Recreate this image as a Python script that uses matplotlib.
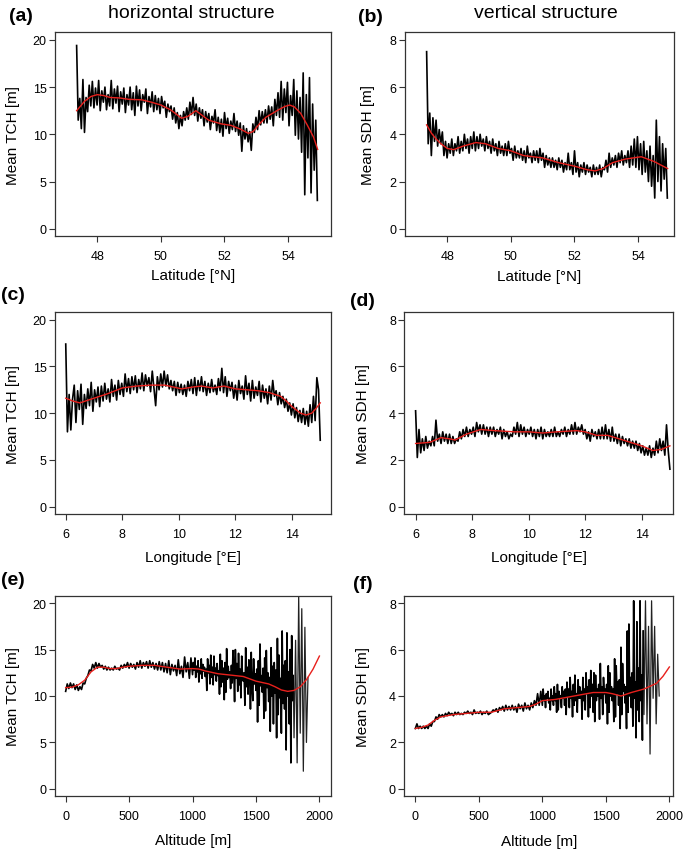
import matplotlib
matplotlib.use("Agg")
import matplotlib.pyplot as plt
import numpy as np

plt.rcParams['font.family'] = ['Liberation Sans', 'DejaVu Sans']

# ---------------- data ----------------
# (a) Mean TCH vs latitude
lat_range = [47.35, 54.92]
tch_lat = [
    19.4, 11.5, 13.8, 10.6, 15.8, 10.2, 13.9, 12.4, 15.2, 13.0,
    15.6, 12.8, 14.9, 13.1, 15.7, 12.5, 14.6, 13.4, 15.0, 12.6,
    14.2, 13.0, 15.7, 12.7, 14.8, 13.3, 15.1, 12.4, 14.5, 13.2,
    14.9, 12.3, 14.2, 13.1, 15.0, 12.6, 14.4, 12.0, 15.1, 13.0,
    14.7, 12.5, 14.2, 13.4, 14.8, 12.2, 14.0, 12.9, 14.5, 12.4,
    14.1, 12.6, 13.8, 12.2, 14.0, 12.8, 13.5, 11.8, 13.2, 12.4,
    13.0, 11.6, 12.8, 11.2, 12.3, 10.6, 12.0, 10.9, 12.4, 11.5,
    12.8, 11.6, 13.4, 12.1, 13.9, 12.0, 13.2, 11.4, 12.8, 11.7,
    12.6, 10.9, 12.4, 11.3, 12.2, 10.5, 11.9, 11.2, 12.6, 10.4,
    11.8, 10.2, 11.6, 9.8, 12.3, 10.6, 11.7, 10.1, 11.4, 10.5,
    12.2, 10.3, 11.4, 9.9, 11.2, 8.2, 10.9, 9.5, 10.6, 9.2,
    10.3, 8.3, 11.1, 10.2, 11.8, 10.5, 12.5, 11.0, 12.4, 11.2,
    12.6, 11.2, 13.0, 11.6, 12.9, 10.9, 13.7, 12.0, 14.4, 11.8,
    15.6, 11.5, 14.8, 12.3, 15.5, 10.9, 14.1, 12.0, 15.8, 9.9,
    14.6, 9.5, 13.9, 8.1, 16.5, 3.6, 14.2, 7.5, 16.0, 3.8,
    13.2, 6.2, 11.5, 3.0]
tch_lat_fit_x = [47.35, 47.6, 47.8, 48.0, 48.2, 48.4, 48.7, 49.0, 49.4, 49.7, 50.0, 50.3,
                 50.5, 50.65, 50.85, 51.1, 51.3, 51.5, 51.9, 52.2, 52.5, 52.75, 52.9,
                 53.1, 53.3, 53.5, 53.7, 53.9, 54.05, 54.2, 54.4, 54.6, 54.8, 54.93]
tch_lat_fit_y = [12.5, 13.5, 14.0, 14.2, 14.1, 13.9, 13.85, 13.7, 13.65, 13.4, 13.1, 12.6,
                 12.1, 11.7, 11.9, 12.5, 12.0, 11.5, 11.1, 10.95, 10.55, 10.1, 10.3,
                 11.1, 11.8, 12.2, 12.6, 12.95, 13.1, 12.9, 12.2, 11.0, 9.7, 8.4]

# (b) Mean SDH vs latitude
sdh_lat = [
    7.5, 3.6, 4.9, 3.1, 4.7, 3.7, 4.6, 3.5, 4.2, 3.6,
    4.1, 3.1, 3.7, 3.0, 3.6, 3.2, 3.8, 3.1, 3.6, 3.3,
    3.9, 3.2, 3.7, 3.3, 4.0, 3.4, 3.8, 3.2, 3.9, 3.4,
    4.1, 3.3, 3.9, 3.4, 4.0, 3.5, 3.8, 3.3, 3.9, 3.4,
    3.7, 3.2, 3.8, 3.3, 3.6, 3.1, 3.7, 3.2, 3.5, 3.1,
    3.6, 3.1, 3.7, 3.2, 3.4, 2.9, 3.5, 3.0, 3.3, 3.0,
    3.4, 2.9, 3.3, 2.8, 3.5, 3.0, 3.2, 2.8, 3.3, 2.9,
    3.3, 2.8, 3.4, 2.9, 3.2, 2.6, 3.1, 2.7, 3.0, 2.6,
    3.0, 2.6, 2.9, 2.5, 3.0, 2.6, 2.9, 2.4, 2.8, 2.5,
    3.2, 2.5, 2.8, 2.3, 3.3, 2.4, 2.8, 2.2, 2.7, 2.4,
    2.8, 2.3, 2.7, 2.4, 2.6, 2.2, 2.7, 2.3, 2.6, 2.3,
    2.7, 2.2, 2.6, 2.5, 2.9, 2.4, 3.2, 2.6, 3.0, 2.7,
    3.1, 2.6, 3.2, 2.8, 3.3, 2.7, 3.1, 2.8, 3.3, 2.6,
    3.5, 2.7, 3.8, 2.6, 3.9, 2.5, 3.6, 2.3, 3.7, 2.4,
    3.3, 2.0, 3.5, 1.8, 3.1, 1.3, 4.6, 2.0, 3.9, 1.6,
    3.6, 2.1, 3.4, 1.3]
sdh_lat_fit_x = [47.35, 47.5, 47.65, 47.8, 48.0, 48.2, 48.5, 48.9, 49.2, 49.6, 50.0, 50.4,
                 50.7, 51.0, 51.5, 52.0, 52.4, 52.65, 52.9, 53.2, 53.6, 54.1, 54.5, 54.93]
sdh_lat_fit_y = [4.4, 4.05, 3.8, 3.6, 3.4, 3.35, 3.5, 3.65, 3.6, 3.4, 3.3, 3.1,
                 3.05, 3.0, 2.8, 2.65, 2.5, 2.45, 2.55, 2.8, 2.95, 3.05, 2.85, 2.55]

# (c) Mean TCH vs longitude
lon_range = [6.0, 15.0]
tch_lon = [
    17.4, 8.0, 12.0, 8.2, 11.5, 13.0, 9.0, 12.4, 10.4, 13.1,
    8.8, 12.0, 10.5, 12.6, 10.8, 13.3, 10.2, 12.5, 11.2, 12.8,
    10.7, 12.9, 11.3, 13.2, 11.5, 12.6, 11.2, 13.6, 11.8, 13.0,
    11.4, 13.5, 12.0, 13.2, 11.8, 14.2, 12.3, 13.7, 12.1, 13.9,
    12.5, 14.0, 12.2, 13.6, 12.6, 14.3, 12.4, 14.1, 12.9, 13.8,
    12.3, 14.5, 12.7, 10.8, 13.9, 12.5, 14.2, 12.8, 14.5, 12.9,
    14.1, 12.6, 13.5, 12.4, 13.4, 11.9, 13.3, 12.2, 13.1, 12.0,
    13.0, 11.8, 13.4, 12.4, 13.6, 12.1, 13.8, 11.9, 13.5, 12.4,
    13.9, 12.3, 13.4, 11.9, 13.2, 12.2, 13.6, 12.3, 13.0, 12.0,
    13.7, 12.4, 14.8, 12.2, 13.9, 11.8, 13.4, 12.4, 13.3, 11.6,
    13.0, 11.4, 13.5, 12.1, 12.9, 11.5, 14.0, 12.0, 13.2, 11.3,
    13.5, 11.6, 12.8, 11.9, 13.4, 11.2, 13.0, 11.6, 12.6, 11.0,
    12.9, 11.4, 13.5, 11.8, 12.4, 10.9, 12.2, 11.0, 11.8, 10.6,
    11.5, 10.2, 11.1, 9.8, 11.0, 9.5, 10.6, 9.1, 10.3, 9.0,
    10.5, 8.8, 10.2, 8.6, 10.9, 9.0, 11.8, 9.2, 13.8, 12.5,
    7.1]
tch_lon_fit_x = [6.0, 6.25, 6.5, 7.0, 7.5, 8.0, 8.5, 9.0, 9.5, 9.8, 10.1, 10.5, 10.8,
                 11.2, 11.6, 12.0, 12.4, 12.8, 13.2, 13.6, 13.8, 14.0, 14.3, 14.5,
                 14.7, 14.85, 15.0]
tch_lon_fit_y = [11.6, 11.3, 11.1, 11.6, 12.1, 12.7, 12.9, 13.0, 13.0, 12.8, 12.6, 12.8,
                 12.9, 12.7, 12.9, 12.6, 12.5, 12.4, 12.2, 11.8, 11.3, 10.7, 10.0,
                 9.8, 10.0, 10.5, 11.1]

# (d) Mean SDH vs longitude
sdh_lon = [
    4.1, 2.1, 3.3, 2.3, 2.9, 2.4, 3.0, 2.5, 2.8, 2.6,
    3.0, 2.6, 3.7, 2.8, 3.1, 2.7, 3.2, 2.8, 3.1, 2.7,
    3.1, 2.7, 3.0, 2.7, 2.9, 2.8, 3.2, 2.9, 3.3, 3.0,
    3.4, 3.0, 3.3, 3.1, 3.4, 3.0, 3.6, 3.2, 3.5, 3.1,
    3.5, 3.1, 3.4, 3.0, 3.4, 3.1, 3.4, 3.0, 3.3, 3.1,
    3.4, 2.9, 3.3, 3.0, 3.2, 2.9, 3.1, 3.0, 3.4, 3.1,
    3.6, 3.0, 3.5, 3.1, 3.4, 3.0, 3.3, 3.1, 3.4, 3.0,
    3.3, 2.9, 3.3, 3.0, 3.4, 2.9, 3.3, 3.0, 3.2, 3.0,
    3.3, 3.0, 3.4, 3.0, 3.2, 3.0, 3.3, 3.1, 3.4, 3.0,
    3.3, 3.1, 3.5, 3.1, 3.6, 3.1, 3.4, 3.2, 3.5, 3.1,
    3.3, 2.9, 3.2, 2.8, 3.3, 3.0, 3.2, 2.9, 3.3, 2.9,
    3.4, 2.9, 3.5, 2.9, 3.3, 2.8, 3.4, 2.8, 3.1, 2.7,
    3.1, 2.6, 3.0, 2.7, 2.9, 2.6, 2.9, 2.5, 2.8, 2.5,
    2.8, 2.4, 2.7, 2.3, 2.6, 2.2, 2.5, 2.2, 2.6, 2.1,
    2.5, 2.2, 2.8, 2.3, 2.9, 2.4, 2.8, 2.2, 3.5, 2.4,
    1.6]
sdh_lon_fit_x = [6.0, 6.5, 6.9, 7.2, 7.4, 7.8, 8.3, 8.8, 9.5, 10.0, 10.5, 11.0, 11.7,
                 12.0, 12.4, 12.8, 13.2, 13.6, 14.0, 14.4, 14.7, 15.0]
sdh_lon_fit_y = [2.7, 2.75, 2.95, 2.9, 2.85, 3.1, 3.3, 3.25, 3.2, 3.2, 3.15, 3.2, 3.25,
                 3.2, 3.05, 3.05, 2.9, 2.75, 2.6, 2.4, 2.45, 2.6]

# (e) Mean TCH vs altitude: low altitudes, noisy high altitudes, sparse tail
alt_low_range = [0, 987.5]
alt_high_range = [1000, 1794]
tch_alt_low = [
    10.5, 11.3, 10.8, 11.4, 10.9, 11.3, 10.7, 11.2, 10.6, 11.0,
    10.7, 11.4, 11.3, 11.9, 12.2, 12.8, 12.7, 13.4, 13.0, 13.6,
    13.0, 13.5, 13.1, 13.3, 12.9, 13.2, 12.8, 13.1, 12.8, 13.0,
    12.8, 13.2, 12.9, 13.0, 12.8, 13.3, 13.0, 13.4, 13.1, 13.6,
    13.0, 13.5, 13.1, 13.4, 12.9, 13.6, 13.1, 13.8, 13.0, 13.6,
    13.2, 13.7, 13.0, 13.8, 13.1, 13.6, 12.9, 13.5, 12.8, 13.7,
    12.8, 13.6, 12.6, 13.5, 12.5, 13.8, 12.3, 13.4, 12.7, 13.3,
    12.2, 13.9, 12.4, 13.2, 12.0, 14.2, 12.6, 13.6, 11.9, 14.1]
tch_alt_high = [
    12.3, 13.6, 12.8, 14.1, 12.0, 13.2, 12.6, 13.8, 11.5, 13.0, 12.4, 14.0, 11.9, 13.4, 12.7, 13.1,
    12.1, 12.9, 10.6, 14.0, 12.5, 13.3, 11.3, 14.4, 12.0, 13.1, 11.2, 14.3, 12.3, 13.0, 11.6, 13.5,
    12.2, 12.7, 10.2, 14.5, 11.0, 13.8, 11.5, 13.0, 9.6, 13.6, 10.4, 15.1, 11.8, 13.2, 12.0, 12.6,
    10.8, 13.3, 11.4, 14.9, 12.8, 9.4, 15.0, 11.9, 13.5, 10.5, 14.6, 11.2, 12.9, 9.8, 14.3, 12.1,
    11.6, 12.5, 9.0, 15.2, 11.0, 13.1, 10.2, 13.9, 13.4, 8.6, 14.7, 10.8, 9.5, 14.0, 11.3, 12.4,
    10.6, 12.9, 7.2, 13.8, 9.0, 15.6, 11.1, 12.2, 10.4, 13.0, 7.6, 14.1, 8.4, 14.9, 10.9, 12.5,
    9.4, 12.0, 6.2, 15.2, 10.0, 13.2, 7.0, 13.6, 10.3, 12.8, 5.5, 16.2, 8.0, 14.4, 9.8, 11.9,
    6.0, 17.0, 9.2, 13.3, 8.6, 13.8, 4.2, 16.8, 10.0, 12.6, 7.0, 15.0, 2.8, 16.5, 9.5, 12.2]
tch_alt_tail_range = [1800, 1910]
tch_alt_tail = [5.5, 16.0, 2.8, 20.8, 6.0, 19.4, 1.9, 17.4, 5.0, 12.0]
tch_alt_fit_x = [0, 50, 100, 150, 200, 250, 300, 350, 400, 450, 500, 600, 700, 800,
                 900, 1000, 1050, 1100, 1200, 1300, 1400, 1500, 1600, 1650, 1700,
                 1750, 1800, 1850, 1900, 1950, 2000]
tch_alt_fit_y = [10.9, 10.95, 11.2, 11.7, 12.6, 13.1, 13.1, 12.95, 12.95, 13.1, 13.2,
                 13.3, 13.3, 13.1, 12.9, 12.95, 12.9, 12.7, 12.4, 12.25, 12.1, 11.6,
                 11.3, 11.0, 10.65, 10.5, 10.6, 11.0, 11.8, 12.9, 14.3]

# (f) Mean SDH vs altitude
sdh_alt_low = [
    2.6, 2.8, 2.6, 2.7, 2.6, 2.7, 2.6, 2.7, 2.6, 2.8,
    2.7, 2.9, 2.9, 3.1, 3.0, 3.2, 3.1, 3.2, 3.1, 3.25,
    3.15, 3.3, 3.2, 3.25, 3.15, 3.3, 3.2, 3.3, 3.2, 3.25,
    3.2, 3.3, 3.25, 3.35, 3.25, 3.3, 3.2, 3.4, 3.25, 3.3,
    3.25, 3.35, 3.2, 3.3, 3.25, 3.35, 3.2, 3.25, 3.3, 3.4,
    3.35, 3.45, 3.3, 3.5, 3.4, 3.55, 3.35, 3.6, 3.4, 3.55,
    3.4, 3.6, 3.4, 3.55, 3.3, 3.65, 3.45, 3.6, 3.35, 3.7,
    3.45, 3.6, 3.4, 3.7, 3.5, 3.8, 3.6, 4.1, 3.6, 4.2]
sdh_alt_high = [
    3.6, 4.3, 3.8, 4.0, 3.5, 4.1, 3.9, 4.2, 3.7, 3.9, 3.4, 4.3, 3.8, 4.0, 3.6, 4.4,
    3.8, 4.1, 3.3, 4.5, 3.4, 4.2, 3.9, 4.0, 3.5, 4.4, 3.9, 4.2, 3.6, 4.3, 3.2, 4.6,
    4.0, 4.3, 3.5, 4.8, 3.9, 4.2, 3.1, 4.5, 3.6, 4.9, 3.8, 4.1, 3.3, 4.7, 3.9, 4.4,
    3.9, 4.2, 3.0, 4.8, 3.8, 4.3, 3.4, 5.0, 4.1, 4.4, 3.1, 4.7, 3.5, 5.1, 4.0, 4.5,
    3.3, 5.0, 2.9, 4.9, 3.8, 4.3, 4.0, 4.5, 3.0, 5.4, 3.9, 4.4, 3.2, 4.8, 4.1, 4.3,
    3.7, 4.5, 2.8, 5.3, 3.3, 5.0, 4.0, 4.4, 3.8, 4.3, 2.9, 5.6, 3.1, 5.3, 4.1, 4.6,
    3.6, 4.7, 2.6, 6.1, 3.2, 5.4, 4.2, 4.5, 3.7, 4.4, 2.6, 6.8, 3.3, 7.1, 4.0, 4.8,
    3.5, 5.0, 2.7, 8.1, 3.9, 4.6, 2.2, 7.2, 3.4, 5.2, 2.9, 8.1, 3.8, 4.9, 2.1, 6.8]
sdh_alt_tail_range = [1800, 1920]
sdh_alt_tail = [3.2, 8.1, 2.8, 7.0, 1.5, 8.1, 3.9, 7.0, 2.8, 5.8, 4.0]
sdh_alt_fit_x = [0, 50, 100, 150, 200, 300, 400, 500, 600, 700, 800, 900, 950, 1000,
                 1100, 1200, 1300, 1400, 1500, 1550, 1620, 1700, 1800, 1900, 1950, 2000]
sdh_alt_fit_y = [2.6, 2.65, 2.75, 2.95, 3.1, 3.2, 3.25, 3.3, 3.3, 3.45, 3.5, 3.55, 3.65,
                 3.8, 3.85, 3.95, 4.05, 4.15, 4.15, 4.1, 4.0, 4.15, 4.3, 4.55, 4.85, 5.25]

panel_letters = ['(a)', '(b)', '(c)', '(d)', '(e)', '(f)']
column_titles = ['horizontal structure', 'vertical structure']
x_labels = ['Latitude [°N]', 'Latitude [°N]', 'Longitude [°E]', 'Longitude [°E]',
            'Altitude [m]', 'Altitude [m]']
y_labels = ['Mean TCH [m]', 'Mean SDH [m]'] * 3

# ---------------- layout ----------------
W, H = 685, 854
fig = plt.figure(figsize=(W / 100, H / 100), dpi=100)


def px_axes(l, t, r, b):
    return fig.add_axes([l / W, 1 - b / H, (r - l) / W, (b - t) / H])


def segs(*pairs):
    xs, ys = [], []
    for vals, rng in pairs:
        xs.append(np.linspace(rng[0], rng[1], len(vals)))
        ys.append(np.asarray(vals, dtype=float))
    return np.concatenate(xs), np.concatenate(ys)


panels = [
    dict(box=(55, 33.3, 330.7, 237.3), xlim=(46.67, 55.34), ylim=(-0.8, 20.8),
         xticks=[48, 50, 52, 54], yticks=[0, 5, 10, 15, 20],
         raw=[(tch_lat, lat_range)], tail=None, fx=tch_lat_fit_x, fy=tch_lat_fit_y,
         ylab=-0.152, xlab=-0.19, let=(21, 16.7)),
    dict(box=(405, 33.3, 674, 237.3), xlim=(46.67, 55.13), ylim=(-0.32, 8.32),
         xticks=[48, 50, 52, 54], yticks=[0, 2, 4, 6, 8],
         raw=[(sdh_lat, lat_range)], tail=None, fx=sdh_lat_fit_x, fy=sdh_lat_fit_y,
         ylab=-0.136, xlab=-0.193, let=(370, 17.5)),
    dict(box=(55, 313.3, 330.7, 515), xlim=(5.62, 15.37), ylim=(-0.8, 20.8),
         xticks=[6, 8, 10, 12, 14], yticks=[0, 5, 10, 15, 20],
         raw=[(tch_lon, lon_range)], tail=None, fx=tch_lon_fit_x, fy=tch_lon_fit_y,
         ylab=-0.152, xlab=-0.215, let=(12.5, 295.8)),
    dict(box=(404.3, 313.3, 673.3, 515), xlim=(5.60, 15.12), ylim=(-0.32, 8.32),
         xticks=[6, 8, 10, 12, 14], yticks=[0, 2, 4, 6, 8],
         raw=[(sdh_lon, lon_range)], tail=None, fx=sdh_lon_fit_x, fy=sdh_lon_fit_y,
         ylab=-0.153, xlab=-0.215, let=(362, 301)),
    dict(box=(55, 596.7, 330.7, 797.3), xlim=(-84, 2089), ylim=(-0.8, 20.8),
         xticks=[0, 500, 1000, 1500, 2000], yticks=[0, 5, 10, 15, 20],
         raw=[(tch_alt_low, alt_low_range), (tch_alt_high, alt_high_range)],
         tail=(tch_alt_tail, tch_alt_tail_range),
         fx=tch_alt_fit_x, fy=tch_alt_fit_y,
         ylab=-0.152, xlab=-0.218, let=(12.5, 580.8)),
    dict(box=(404.3, 596.7, 673.3, 797.3), xlim=(-87, 2031), ylim=(-0.32, 8.32),
         xticks=[0, 500, 1000, 1500, 2000], yticks=[0, 2, 4, 6, 8],
         raw=[(sdh_alt_low, alt_low_range), (sdh_alt_high, alt_high_range)],
         tail=(sdh_alt_tail, sdh_alt_tail_range),
         fx=sdh_alt_fit_x, fy=sdh_alt_fit_y,
         ylab=-0.153, xlab=-0.221, let=(363, 585)),
]

for i, p in enumerate(panels):
    ax = px_axes(*p['box'])
    xr, yr = segs(*p['raw'])
    if p['tail'] is not None:
        xt, yt = segs(p['tail'])
        ax.plot(np.r_[xr[-1:], xt], np.r_[yr[-1:], yt], color='#222222', lw=0.9, zorder=2)
    ax.plot(xr, yr, color='black', lw=1.2, zorder=2)
    ax.plot(p['fx'], p['fy'], color='#e8201c', lw=1.0, zorder=3)
    ax.set_xlim(*p['xlim'])
    ax.set_ylim(*p['ylim'])
    ax.set_xticks(p['xticks'])
    ax.set_yticks(p['yticks'])
    for s in ax.spines.values():
        s.set_color('#333333')
        s.set_linewidth(0.9)
    ax.tick_params(axis='both', direction='out', length=4, width=0.8,
                   color='#333333', labelsize=9)
    ax.tick_params(axis='x', pad=6)
    ax.tick_params(axis='y', pad=2)
    ax.set_xlabel(x_labels[i], fontsize=11, va='center')
    ax.set_ylabel(y_labels[i], fontsize=11, va='center')
    ax.xaxis.set_label_coords(0.5, p['xlab'])
    ax.yaxis.set_label_coords(p['ylab'], 0.5)
    lx, ly = p['let']
    fig.text(lx / W, 1 - ly / H, panel_letters[i], fontsize=14, fontweight='bold',
             ha='center', va='center')

fig.text(191 / W, 1 - 18.5 / H, column_titles[0], fontsize=14, ha='center',
         va='baseline')
fig.text(546 / W, 1 - 18.5 / H, column_titles[1], fontsize=14, ha='center',
         va='baseline')

fig.savefig('out.png', dpi=100)
